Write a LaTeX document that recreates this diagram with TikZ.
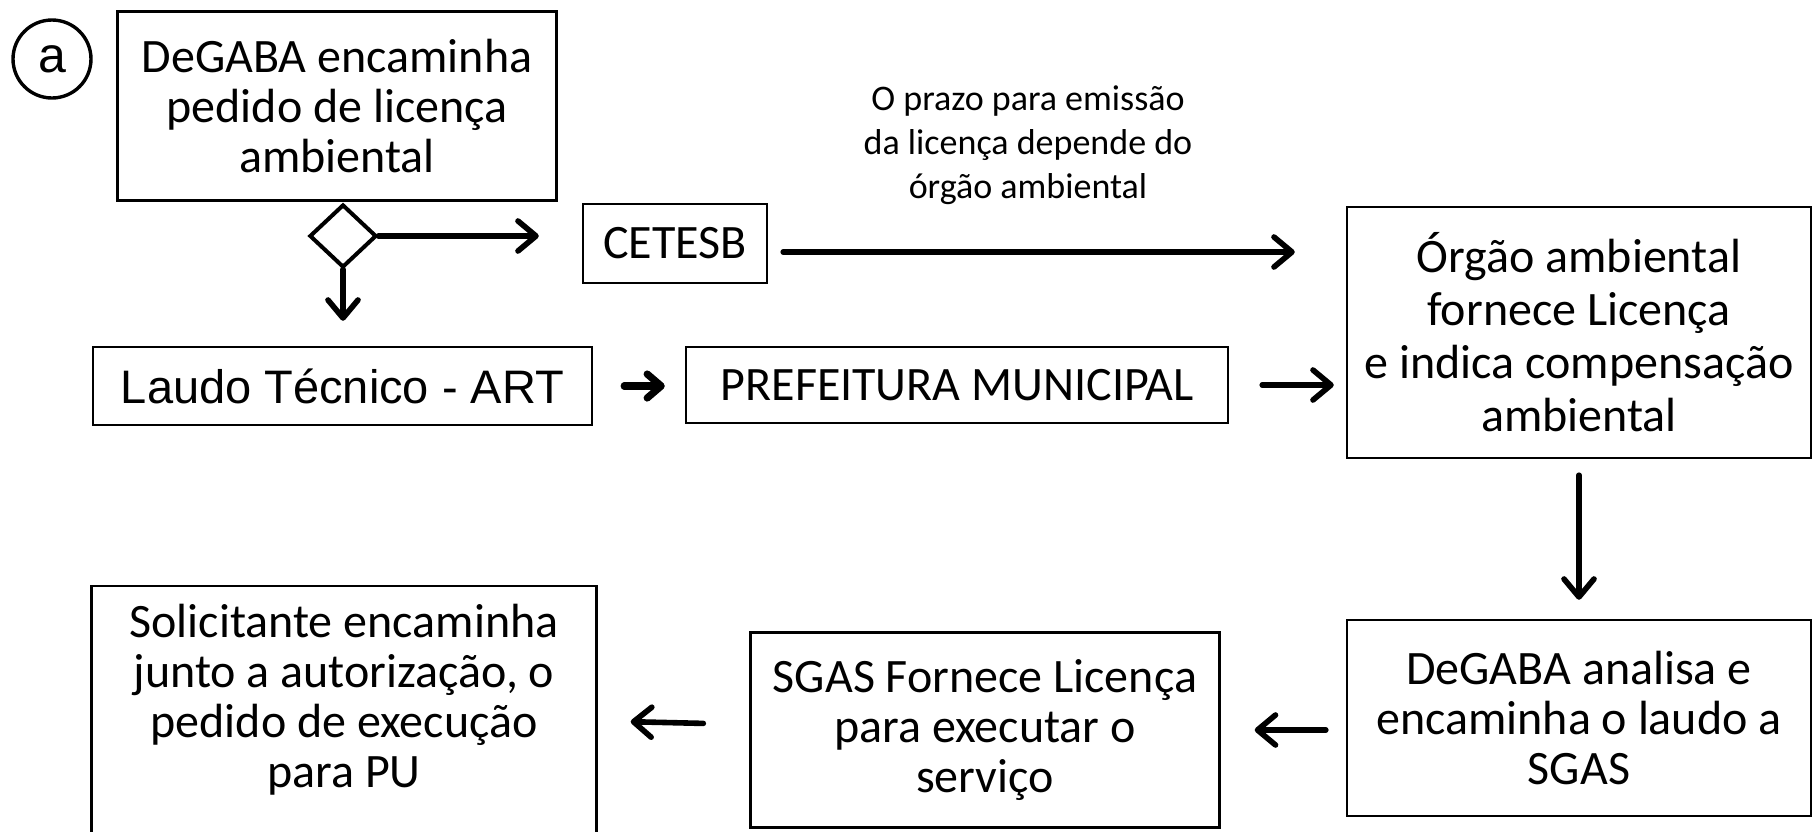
\documentclass[tikz,border=0pt]{standalone}
\usepackage{fontspec}
\setmainfont{Carlito}
\newfontfamily\arialfont{Liberation Sans}
\usetikzlibrary{shapes.geometric, arrows.meta}

\begin{document}
\begin{tikzpicture}[x=1pt, y=1pt, box/.style={rectangle, draw=black, line width=1.2pt, align=center, inner sep=0pt, font=\fontsize{24}{25}\selectfont}, flow/.style={line width=2.8pt, line cap=round, -{Straight Barb[length=9pt, width=15pt, round]}}, bold flow/.style={line width=3.6pt, line cap=round, -{Straight Barb[length=7pt, width=12pt, round]}}]
        \useasboundingbox (0,0) rectangle (906,-415.5);

        \node(tag)[circle, draw=black, line width=1.7pt, minimum size=39pt, inner sep=0pt, font=\arialfont\fontsize{25}{25}\selectfont] at (26,-29.5) {a};
        \node(request)[box, minimum width=219.5pt, minimum height=94.5pt] at (168.5,-53) {DeGABA encaminha\\pedido de licença\\ambiental};
        \node(choice)[diamond, draw=black, line width=2pt, minimum width=33.5pt, minimum height=31.5pt, inner sep=0pt] at (171.5,-118) {};
        \node(cetesb)[box, minimum width=92pt, minimum height=39.5pt] at (337.5,-121.75) {CETESB};
        \node(note)[align=center, font=\fontsize{18}{22}\selectfont] at (514,-72.5) {O prazo para emissão\\da licença depende do\\órgão ambiental};
        \node(agency)[box, minimum width=232pt, minimum height=125.5pt, font=\fontsize{24}{26.5}\selectfont] at (789.5,-166.25) {Órgão ambiental\\fornece Licença\\e indica compensação\\ambiental};
        \node(report)[box, minimum width=249.5pt, minimum height=39pt, font=\arialfont\fontsize{23.5}{25}\selectfont] at (171.25,-193) {Laudo Técnico - ART};
        \node(city)[box, minimum width=271pt, minimum height=38pt] at (478.5,-192.5) {PREFEITURA MUNICIPAL};
        \node(review)[box, minimum width=232pt, minimum height=98pt] at (789.5,-359) {DeGABA analisa e\\encaminha o laudo a\\SGAS};
        \node(sgas)[box, minimum width=234.5pt, minimum height=97.5pt] at (492.5,-365) {SGAS Fornece Licença\\para executar o\\serviço};
        \node(applicant)[box, minimum width=252.5pt, minimum height=129pt, text depth=19pt] at (172,-357.5) {Solicitante encaminha\\junto a autorização, o\\pedido de execução\\para PU};

        \draw[flow, shorten >=21.5pt] (choice.east) -- (choice.east -| cetesb.west);
        \draw[flow, shorten >=12.5pt] (choice.south) -- (choice.south |- report.north);
        \draw[flow, shorten <=7.5pt, shorten >=25.5pt] ([yshift=-4.25pt]cetesb.east) -- ([yshift=-4.25pt]cetesb.east -| agency.west);
        \draw[bold flow, shorten <=15.5pt, shorten >=10pt] (report) -- (report -| city.west);
        \draw[flow, shorten <=16.5pt, shorten >=6pt] (city) -- (city -| agency.west);
        \draw[flow, shorten <=8pt, shorten >=9.5pt] (agency) -- (review);
        \draw[flow, shorten <=10pt, shorten >=17pt] (review.west |- sgas.east) -- (sgas.east);
        \draw[flow, shorten <=23pt, shorten >=16.5pt] (sgas) -- (applicant);
    \end{tikzpicture}
\end{document}
